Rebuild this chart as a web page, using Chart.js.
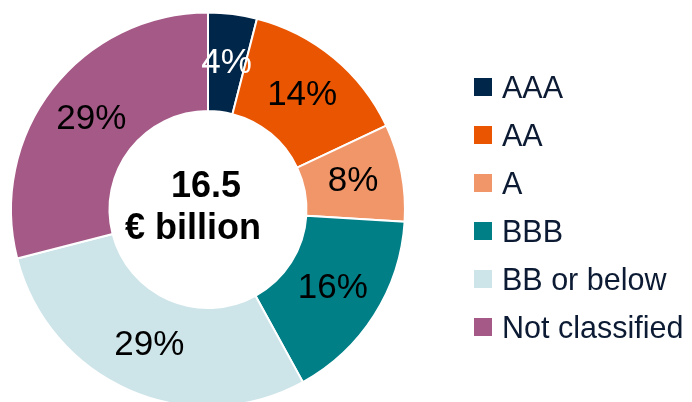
<!DOCTYPE html>
<html lang="en">
<head>
    <meta charset="UTF-8">
    <title>Rating breakdown</title>
    <script src="https://cdn.jsdelivr.net/npm/chart.js@4"></script>
    <style>
html, body {
    margin: 0;
    padding: 0;
    background: #fff;
    overflow: hidden;
}
#wrap {
    position: relative;
    width: 692px;
    height: 420px;
}
#legendBox {
    position: absolute;
    left: 474px;
    top: 63px;
    font-family: "Liberation Sans", Arial, sans-serif;
    font-size: 30.5px;
    color: #0c1b33;
}
#legendBox .item {
    display: flex;
    align-items: center;
    height: 48px;
    white-space: nowrap;
}
#legendBox .box {
    width: 18px;
    height: 18px;
    margin-right: 10px;
}
    </style>
</head>
<body>
    <div id="wrap">
        <canvas id="ratingChart"></canvas>
        <div id="legendBox"></div>
    </div>
    <script>
const categories = ['AAA', 'AA', 'A', 'BBB', 'BB or below', 'Not classified'];
const shares = [4, 14, 8, 16, 29, 29];
const sliceColors = ['#002649', '#ea5502', '#f09669', '#007f87', '#cde4e9', '#a55986'];
const labelColors = ['#ffffff', '#000000', '#000000', '#000000', '#000000', '#000000'];
const centerLines = ['16.5', '€ billion'];

// percentages written in the middle of each slice
const sliceLabels = {
    id: 'sliceLabels',
    afterDatasetsDraw(chart) {
        const ctx = chart.ctx;
        const meta = chart.getDatasetMeta(0);
        ctx.save();
        ctx.font = '35px "Liberation Sans", Arial, sans-serif';
        ctx.textAlign = 'center';
        ctx.textBaseline = 'middle';
        meta.data.forEach((arc, i) => {
            const p = arc.tooltipPosition();
            ctx.fillStyle = labelColors[i];
            ctx.fillText(shares[i] + '%', p.x, p.y);
        });
        ctx.restore();
    }
};

// total in the hole
const centerText = {
    id: 'centerText',
    afterDatasetsDraw(chart) {
        const ctx = chart.ctx;
        const arc = chart.getDatasetMeta(0).data[0];
        ctx.save();
        ctx.font = 'bold 36px "Liberation Sans", Arial, sans-serif';
        ctx.fillStyle = '#000';
        ctx.textAlign = 'center';
        ctx.textBaseline = 'middle';
        ctx.fillText(centerLines[0], arc.x - 2, arc.y - 22);
        ctx.fillText(centerLines[1], arc.x - 15, arc.y + 20);
        ctx.restore();
    }
};

const chart = new Chart(
    document.getElementById('ratingChart'),
    {
        type: 'doughnut',
        data: {
            labels: categories,
            datasets: [{
                data: shares,
                backgroundColor: sliceColors,
                borderColor: '#ffffff',
                borderWidth: 2
            }]
        },
        options: {
            responsive: true,
            maintainAspectRatio: false,
            animation: false,
            cutout: '50%',
            layout: { padding: { top: 11, left: 10, bottom: 12, right: 286 } },
            plugins: {
                legend: { display: false },
                tooltip: { enabled: false }
            }
        },
        plugins: [sliceLabels, centerText]
    }
);

// legend built from the chart's own labels
const legendBox = document.getElementById('legendBox');
chart.options.plugins.legend.labels.generateLabels(chart).forEach(item => {
    const row = document.createElement('div');
    row.className = 'item';
    row.innerHTML = `<span class="box" style="background:${item.fillStyle}"></span><span>${item.text}</span>`;
    legendBox.appendChild(row);
});
    </script>
</body>
</html>
